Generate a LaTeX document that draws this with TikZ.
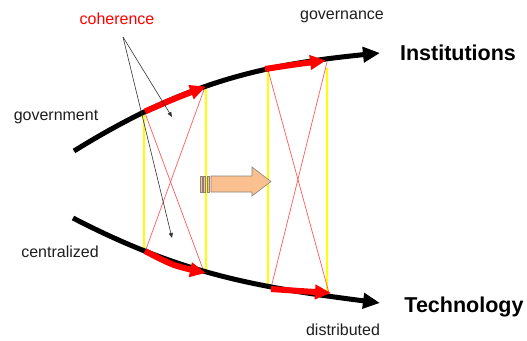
\documentclass[tikz,border=0pt]{standalone}
\usepackage{fontspec}
\setmainfont{Liberation Sans}
\usetikzlibrary{arrows.meta}
\definecolor{peach}{RGB}{250,192,144}
\definecolor{peachline}{RGB}{140,130,120}
\definecolor{txt}{RGB}{30,30,30}
\definecolor{ylw}{RGB}{255,255,0}
\begin{document}
\begin{tikzpicture}[x=1pt,y=-1pt,
  lbl/.style={font=\fontsize{16}{18}\selectfont, text=txt, inner sep=0pt},
  big/.style={font=\fontsize{21.5}{24}\selectfont\bfseries, text=black, inner sep=0pt},
  mainline/.style={line width=5pt, -{Triangle[length=17pt,width=15pt]}},
  redarrow/.style={red, line width=6pt, -{Triangle[length=16pt,width=14pt]}},
  ylwline/.style={ylw, line width=2pt},
  cross/.style={red!65, line width=0.7pt},
  pointer/.style={black!80, line width=0.6pt, -{Triangle[length=5pt,width=4pt]}}]
\useasboundingbox (0,0) rectangle (527,340);

% curve ends
\coordinate (t0) at (74,151);
\coordinate (tE) at (380,53);
\coordinate (b0) at (73,218);
\coordinate (bE) at (380,303);

% yellow verticals
\draw[ylwline] (143.5,111) -- (143.5,252);
\draw[ylwline] (206,87) -- (206,273);
\draw[ylwline] (268,69) -- (268,287);
\draw[ylwline] (327,68) -- (327,294);

% red crossing lines
\draw[cross] (145,113) -- (204,272);
\draw[cross] (205,87) -- (145,252);
\draw[cross] (268,70) -- (329,293);
\draw[cross] (327,62) -- (271,288);

% main curves
\draw[mainline] (t0) .. controls (184,82.8) and (260,65) .. (tE);
\draw[mainline] (b0) .. controls (183,275.2) and (260,287.4) .. (bE);

% red arrows
\draw[redarrow] plot[smooth] coordinates {(145,111.5) (175,98.5) (206,86.5)};
\draw[redarrow] plot[smooth] coordinates {(265,69) (295,64.5) (326,60.5)};
\draw[redarrow] plot[smooth] coordinates {(145,251) (174,265) (206,273)};
\draw[redarrow] plot[smooth] coordinates {(271,289) (300,291) (331,293)};

% orange arrow
\draw[peachline, fill=peach, line width=0.6pt]
  (211,176) -- (252,176) -- (252,167) -- (271,181.5) -- (252,196) -- (252,192) -- (211,192) -- cycle;
\foreach \xx in {200,203.5,207}
  \draw[peachline, fill=peach, line width=0.6pt] (\xx,176) rectangle ++(2.2,16);

% labels
\node[lbl, text=red] (coh) at (117,19) {coherence};
\coordinate (cohsrc) at (123,37);
\coordinate (cohA) at (172,117);
\coordinate (cohB) at (172,238);
\draw[pointer] (cohsrc) -- (cohA);
\draw[pointer] (cohsrc) -- (cohB);

\node[lbl] (gov) at (56,117) {government};
\node[lbl] (cen) at (60,252) {centralized};
\node[lbl] (gvn) at (342,17) {governance};
\node[lbl] (dis) at (343,330) {distributed};
\node[big] (inst) at (458,53) {Institutions};
\node[big] (tech) at (464,307) {Technology};
\end{tikzpicture}
\end{document}
